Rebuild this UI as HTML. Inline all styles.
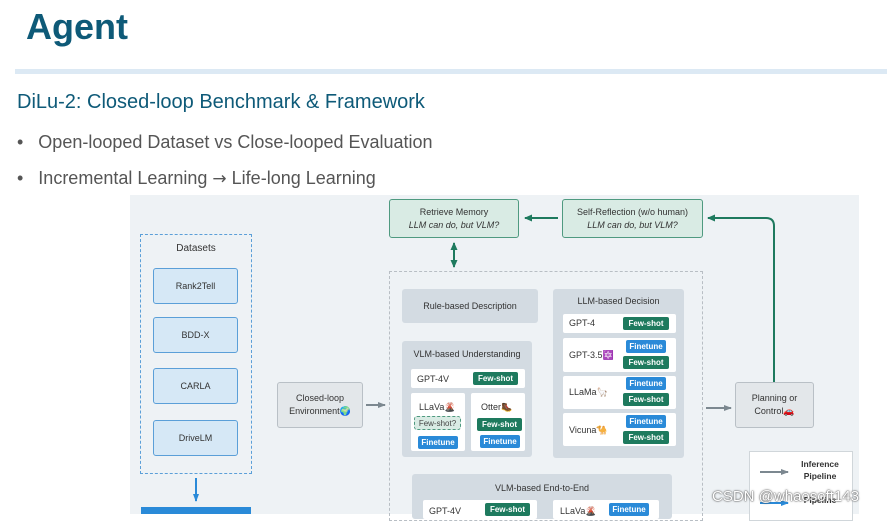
<!DOCTYPE html>
<html><head><meta charset="utf-8"><style>
body{margin:0;width:887px;height:514px;overflow:hidden;background:#fff;position:relative;font-family:"Liberation Sans","DejaVu Sans",sans-serif}
.a{position:absolute;box-sizing:border-box}
.c{display:flex;flex-direction:column;align-items:center;justify-content:center;text-align:center}
.t{font-size:9px;color:#333}
.fs{background:#1e7a5e;color:#fff;font-size:8px;border-radius:2px;font-weight:bold}
.ft{background:#2a8ad8;color:#fff;font-size:8px;border-radius:2px;font-weight:bold}
.w{background:#fff;border-radius:2px}
.g{background:#d3dbe2;border-radius:3px}
.ds{background:#d6e8f6;border:1.5px solid #5b9fd8;border-radius:3px;font-size:9px;color:#333}
</style></head><body>
<div class="a" style="left:26px;top:6px;font-size:36px;font-weight:bold;color:#0e5a78">Agent</div>
<div class="a" style="left:15px;top:69px;width:872px;height:5px;background:#dce9f4"></div>
<div class="a" style="left:17px;top:91px;font-size:20px;color:#0e5a78">DiLu-2: Closed-loop Benchmark &amp; Framework</div>
<div class="a" style="left:17px;top:132px;font-size:18px;color:#555">•&nbsp;&nbsp;&nbsp;Open-looped Dataset vs Close-looped Evaluation</div>
<div class="a" style="left:17px;top:168px;font-size:18px;color:#555">•&nbsp;&nbsp;&nbsp;Incremental Learning <span style="font-family:'DejaVu Sans';font-size:17px">→</span> Life-long Learning</div>

<div class="a" style="left:130px;top:195px;width:729px;height:319px;background:#eef2f5"></div>

<div class="a" style="left:140px;top:234px;width:112px;height:240px;border:1.5px dashed #5b9fd8"></div>
<div class="a t" style="left:140px;top:243px;width:112px;text-align:center;font-size:10px">Datasets</div>
<div class="a ds c" style="left:153px;top:268px;width:85px;height:36px">Rank2Tell</div>
<div class="a ds c" style="left:153px;top:317px;width:85px;height:36px">BDD-X</div>
<div class="a ds c" style="left:153px;top:368px;width:85px;height:36px">CARLA</div>
<div class="a ds c" style="left:153px;top:420px;width:85px;height:36px">DriveLM</div>
<div class="a" style="left:141px;top:507px;width:110px;height:7px;background:#2a8ad8"></div>

<div class="a c t" style="left:277px;top:382px;width:86px;height:46px;background:#e3e7ea;border:1px solid #b9c0c6;border-radius:3px;line-height:13px"><span>Closed-loop<br>Environment🌍</span></div>

<div class="a" style="left:389px;top:271px;width:314px;height:250px;border:1.5px dashed #b8bec4"></div>

<div class="a c t" style="left:389px;top:199px;width:130px;height:39px;background:#d9ebe4;border:1.5px solid #4f9a80;border-radius:3px;line-height:13px"><span>Retrieve Memory<br><i>LLM can do, but VLM?</i></span></div>
<div class="a c t" style="left:562px;top:199px;width:141px;height:39px;background:#d9ebe4;border:1.5px solid #4f9a80;border-radius:3px;line-height:13px"><span>Self-Reflection (w/o human)<br><i>LLM can do, but VLM?</i></span></div>

<div class="a c t g" style="left:402px;top:289px;width:136px;height:34px">Rule-based Description</div>

<div class="a g" style="left:553px;top:289px;width:131px;height:169px"></div>
<div class="a t" style="left:553px;top:296px;width:131px;text-align:center">LLM-based Decision</div>
<div class="a w" style="left:563px;top:314px;width:113px;height:19px"></div>
<div class="a t" style="left:569px;top:318px">GPT-4</div>
<div class="a fs c" style="left:623px;top:317px;width:46px;height:13px">Few-shot</div>
<div class="a w" style="left:563px;top:338px;width:113px;height:34px"></div>
<div class="a t" style="left:569px;top:350px">GPT-3.5🔯</div>
<div class="a ft c" style="left:626px;top:340px;width:40px;height:13px">Finetune</div>
<div class="a fs c" style="left:623px;top:356px;width:46px;height:13px">Few-shot</div>
<div class="a w" style="left:563px;top:376px;width:113px;height:33px"></div>
<div class="a t" style="left:569px;top:387px">LLaMa🦙</div>
<div class="a ft c" style="left:626px;top:377px;width:40px;height:13px">Finetune</div>
<div class="a fs c" style="left:623px;top:393px;width:46px;height:13px">Few-shot</div>
<div class="a w" style="left:563px;top:413px;width:113px;height:33px"></div>
<div class="a t" style="left:569px;top:425px">Vicuna🐪</div>
<div class="a ft c" style="left:626px;top:415px;width:40px;height:13px">Finetune</div>
<div class="a fs c" style="left:623px;top:431px;width:46px;height:13px">Few-shot</div>

<div class="a g" style="left:402px;top:341px;width:130px;height:116px"></div>
<div class="a t" style="left:402px;top:349px;width:130px;text-align:center">VLM-based Understanding</div>
<div class="a w" style="left:411px;top:369px;width:114px;height:19px"></div>
<div class="a t" style="left:417px;top:374px">GPT-4V</div>
<div class="a fs c" style="left:473px;top:372px;width:45px;height:13px">Few-shot</div>
<div class="a w" style="left:411px;top:393px;width:54px;height:58px"></div>
<div class="a t" style="left:419px;top:402px">LLaVa🌋</div>
<div class="a c" style="left:414px;top:416px;width:47px;height:14px;font-size:8px;color:#444;background:#d9ebe4;border:1px dashed #4f9a80;border-radius:3px">Few-shot?</div>
<div class="a ft c" style="left:418px;top:436px;width:40px;height:13px">Finetune</div>
<div class="a w" style="left:471px;top:393px;width:54px;height:58px"></div>
<div class="a t" style="left:481px;top:402px">Otter🥾</div>
<div class="a fs c" style="left:477px;top:418px;width:45px;height:13px">Few-shot</div>
<div class="a ft c" style="left:480px;top:435px;width:40px;height:13px">Finetune</div>

<div class="a g" style="left:412px;top:474px;width:260px;height:45px"></div>
<div class="a t" style="left:412px;top:483px;width:260px;text-align:center">VLM-based End-to-End</div>
<div class="a w" style="left:423px;top:500px;width:114px;height:19px"></div>
<div class="a t" style="left:429px;top:506px">GPT-4V</div>
<div class="a fs c" style="left:485px;top:503px;width:45px;height:13px">Few-shot</div>
<div class="a w" style="left:553px;top:500px;width:106px;height:19px"></div>
<div class="a t" style="left:560px;top:506px">LLaVa🌋</div>
<div class="a ft c" style="left:609px;top:503px;width:40px;height:13px">Finetune</div>

<div class="a c t" style="left:735px;top:382px;width:79px;height:46px;background:#e3e7ea;border:1px solid #b9c0c6;border-radius:3px;line-height:13px"><span>Planning or<br>Control🚗</span></div>

<div class="a" style="left:749px;top:451px;width:104px;height:70px;background:#fff;border:1px solid #d0d6da"></div>
<div class="a" style="left:790px;top:458px;width:60px;text-align:center;font-size:8.5px;font-weight:bold;color:#333;line-height:12px">Inference<br>Pipeline<br><br>Pipeline</div>

<svg class="a" style="left:0;top:0" width="887" height="514">
<defs>
<marker id="mg" markerUnits="userSpaceOnUse" markerWidth="8" markerHeight="8" refX="7" refY="4" orient="auto"><path d="M0,0.5L8,4L0,7.5z" fill="#1e7a5e"/></marker>
<marker id="mr" markerUnits="userSpaceOnUse" markerWidth="8" markerHeight="8" refX="7" refY="4" orient="auto"><path d="M0,1L8,4L0,7z" fill="#7c8890"/></marker>
<marker id="mb" markerUnits="userSpaceOnUse" markerWidth="8" markerHeight="8" refX="7" refY="4" orient="auto"><path d="M0,1L8,4L0,7z" fill="#2a8ad8"/></marker>
</defs>
<g stroke-width="2" fill="none">
<line x1="558" y1="218" x2="525" y2="218" stroke="#1e7a5e" marker-end="url(#mg)"/>
<line x1="454" y1="255" x2="454" y2="243" stroke="#1e7a5e" marker-end="url(#mg)"/>
<line x1="454" y1="254" x2="454" y2="267" stroke="#1e7a5e" marker-end="url(#mg)"/>
<path d="M774,382 V226 Q774,218 766,218 H708" stroke="#1e7a5e" marker-end="url(#mg)"/>
<line x1="366" y1="405" x2="385" y2="405" stroke="#7c8890" marker-end="url(#mr)"/>
<line x1="706" y1="408" x2="731" y2="408" stroke="#7c8890" marker-end="url(#mr)"/>
<line x1="760" y1="472" x2="788" y2="472" stroke="#7c8890" marker-end="url(#mr)"/>
<line x1="760" y1="503" x2="788" y2="503" stroke="#2a8ad8" marker-end="url(#mb)"/>
<line x1="196" y1="478" x2="196" y2="501" stroke="#2a8ad8" marker-end="url(#mb)"/>
</g>
</svg>
<div class="a" style="left:712px;top:488px;font-size:15px;color:#fff;text-shadow:0 0 2px #555,0 0 1px #333">CSDN @whaosoft143</div>
</body></html>
